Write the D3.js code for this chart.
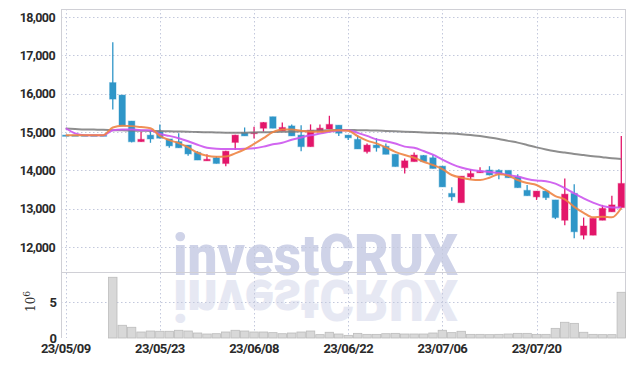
<!DOCTYPE html>
<html><head><meta charset="utf-8">
<script src="https://cdn.jsdelivr.net/npm/d3@7"></script>
<style>body{margin:0;background:#fff}svg{display:block}</style>
</head><body>
<svg id="c" width="635" height="366"></svg>
<script>
const dates = ["23/05/09","23/05/10","23/05/11","23/05/12","23/05/15","23/05/16","23/05/17","23/05/18","23/05/19","23/05/22",
"23/05/23","23/05/24","23/05/25","23/05/26","23/05/30","23/05/31","23/06/01","23/06/02","23/06/05","23/06/07",
"23/06/08","23/06/09","23/06/12","23/06/13","23/06/14","23/06/15","23/06/16","23/06/19","23/06/20","23/06/21",
"23/06/22","23/06/23","23/06/26","23/06/27","23/06/28","23/06/29","23/06/30","23/07/03","23/07/04","23/07/05",
"23/07/06","23/07/07","23/07/10","23/07/11","23/07/12","23/07/13","23/07/14","23/07/17","23/07/18","23/07/19",
"23/07/20","23/07/21","23/07/24","23/07/25","23/07/26","23/07/27","23/07/28","23/07/31","23/08/01","23/08/02"];
const open  = [14920,14920,14920,14920,14920,16290,15965,15287,14750,14920,15010,14820,14750,14660,14470,14250,14330,14180,14730,14980,
14960,15100,15400,15030,15160,14920,14620,15010,15080,15180,14920,14810,14490,14660,14630,14420,14070,14230,14390,14330,
14110,13400,13160,13830,13940,14010,14000,14000,13830,13480,13310,13460,13230,12700,13400,12310,12310,12700,12920,13030];
const high  = [14920,14920,14920,14920,14920,17340,15970,15290,15010,15010,15200,14820,14970,14660,14500,14420,14370,14510,14930,15120,
15140,15260,15400,15250,15200,15180,15200,15200,15425,15180,14920,14920,14700,14840,14700,14420,14310,14470,14400,14400,
14110,13560,13850,14030,14080,14110,14030,14000,13900,13620,13460,13460,13230,13790,13640,12770,12750,13100,13340,14900];
const low   = [14920,14920,14920,14920,14920,15590,15150,14730,14750,14720,14830,14590,14590,14380,14270,14250,14180,14110,14530,14900,
14830,15010,15100,15030,14900,14500,14620,15010,15080,14900,14790,14560,14440,14490,14420,14100,13920,14230,14230,14050,
13570,13210,13160,13770,13940,13870,13770,13810,13550,13340,13230,13230,12730,12570,12230,12200,12310,12700,12920,13030];
const close = [14920,14920,14920,14920,14920,15860,15157,14747,14810,14820,14840,14640,14590,14430,14270,14290,14180,14500,14920,14900,
14990,15250,15100,15120,14900,14620,15050,15100,15200,14970,14850,14560,14660,14590,14420,14100,14250,14400,14230,14050,
13570,13310,13850,13920,13980,13880,13920,13810,13550,13340,13460,13290,12770,13380,12400,12550,12750,13010,13100,13660];
const volume = [0,0,0,0,0,8.5,1.78,1.5,0.84,0.98,0.94,0.94,1.08,0.98,0.7,0.56,0.6,0.84,1.08,0.98,
0.84,0.84,0.75,0.6,0.7,0.84,0.98,0.47,0.8,0.56,0.37,0.65,0.51,0.51,0.6,0.65,0.56,0.56,0.56,0.7,
1.08,0.75,0.94,0.51,0.51,0.47,0.51,0.56,0.65,0.65,0.51,0.51,1.35,2.2,2.05,0.8,0.51,0.47,0.47,6.4];
const maShort = [14920,14920,14920,14920,14920,15120,15165,15155,15130,15100,14900,14790,14710,14600,14460,14380,14355,14360,14445,14550,
14690,14840,15000,15070,15070,15035,15010,15010,15035,15050,15035,14895,14775,14705,14600,14485,14400,14330,14225,14140,
14035,13880,13810,13765,13750,13810,13900,13860,13750,13670,13620,13485,13330,13245,13050,12895,12775,12790,12775,13020];
const maMid = [15100,14965,14920,14920,14920,15050,15070,15065,15050,15045,14950,14900,14840,14760,14670,14590,14565,14560,14560,14565,
14580,14620,14680,14720,14800,14860,14915,14960,15005,15040,15050,14980,14900,14810,14760,14700,14620,14590,14505,14410,
14280,14165,14075,14015,13985,13960,13930,13880,13840,13775,13735,13720,13655,13540,13400,13270,13160,13070,13035,13035];
const maLong = [15090,15080,15070,15065,15060,15050,15045,15040,15035,15030,15025,15020,15015,15010,15000,14995,14990,14985,14985,14985,
14990,14995,15000,15005,15010,15020,15030,15040,15050,15055,15055,15050,15045,15040,15030,15020,15010,15000,14990,14980,
14970,14960,14945,14925,14895,14860,14820,14770,14725,14665,14600,14545,14500,14465,14430,14400,14370,14345,14320,14300];
const priceTicks = [12000,13000,14000,15000,16000,17000,18000];
const volTicks = [0,5];
const dateTickIdx = [0,10,20,30,40,50];

const svg = d3.select("#c");
const L = 61, R = 626, T = 9, MID = 272, B = 338;
const idx = d3.range(dates.length);
const x = d3.scaleBand().domain(idx).range([L, R]);
const bw = x.bandwidth();
const cx = i => x(i) + bw / 2;
const y = d3.scaleLinear().domain([11350, 18210]).range([MID, T]);
const yv = d3.scaleLinear().domain([0, 9.24]).range([B, MID]);

// watermark
const wm = svg.append("g").attr("font-family", "Roboto, Lato, Liberation Sans, Arial").attr("font-weight", 900).attr("font-size", 58);
wm.append("text").attr("x", 173).attr("y", 275).attr("textLength", 285).attr("lengthAdjust", "spacingAndGlyphs")
  .attr("fill", "#cfd3e8").text("investCRUX");
wm.append("text").attr("x", 173).attr("y", -280).attr("transform", "scale(1,-1)").attr("textLength", 285).attr("lengthAdjust", "spacingAndGlyphs")
  .attr("fill", "#cfd3e8").attr("opacity", 0.5).text("investCRUX");

// grids
const grid = svg.append("g").attr("stroke", "#c3c8dc").attr("stroke-width", 1).attr("stroke-dasharray", "1.5,2.5");
priceTicks.forEach(t => grid.append("line").attr("x1", L).attr("x2", R).attr("y1", Math.round(y(t)) + 0.5).attr("y2", Math.round(y(t)) + 0.5));
grid.append("line").attr("x1", L).attr("x2", R).attr("y1", Math.round(yv(5)) + 0.5).attr("y2", Math.round(yv(5)) + 0.5);
dateTickIdx.forEach(i => grid.append("line").attr("x1", Math.round(cx(i)) + 0.5).attr("x2", Math.round(cx(i)) + 0.5).attr("y1", T).attr("y2", B));

// frame
const fr = svg.append("g").attr("stroke", "#d0d0d6").attr("stroke-width", 1);
fr.append("line").attr("x1", L + 0.5).attr("x2", L + 0.5).attr("y1", T).attr("y2", B);
fr.append("line").attr("x1", R - 0.5).attr("x2", R - 0.5).attr("y1", T).attr("y2", B);
fr.append("line").attr("x1", L).attr("x2", R).attr("y1", T + 0.5).attr("y2", T + 0.5);
fr.append("line").attr("x1", L).attr("x2", R).attr("y1", MID + 0.5).attr("y2", MID + 0.5);

// volume bars
svg.append("g").selectAll("rect").data(idx.filter(i => volume[i] > 0)).join("rect")
  .attr("x", i => x(i) + 0.5).attr("width", bw - 1)
  .attr("y", i => yv(volume[i])).attr("height", i => B - yv(volume[i]))
  .attr("fill", "#d8d8d8").attr("stroke", "#bcbcbc").attr("stroke-width", 0.8);

// candles
const up = "#e3166a", down = "#2f96c8";
const cg = svg.append("g");
idx.forEach(i => {
  const col = close[i] > open[i] ? up : down;
  cg.append("line").attr("x1", cx(i)).attr("x2", cx(i)).attr("y1", y(high[i])).attr("y2", y(low[i]))
    .attr("stroke", col).attr("stroke-width", 1.3);
  const top = y(Math.max(open[i], close[i])), bot = y(Math.min(open[i], close[i]));
  cg.append("rect").attr("x", cx(i) - 3.2).attr("width", 6.4).attr("y", top).attr("height", Math.max(bot - top, 1.2))
    .attr("fill", col).attr("stroke", col).attr("stroke-opacity", 0.35).attr("stroke-width", 1.2);
});

// moving averages
const line = d3.line().x((d, i) => cx(i)).y(d => y(d)).curve(d3.curveMonotoneX);
svg.append("path").attr("d", line(maLong)).attr("fill", "none").attr("stroke", "#7a7a7a").attr("stroke-opacity", 0.85).attr("stroke-width", 2);
svg.append("path").attr("d", line(maMid)).attr("fill", "none").attr("stroke", "#cc55ee").attr("stroke-opacity", 0.9).attr("stroke-width", 2);
svg.append("path").attr("d", line(maShort)).attr("fill", "none").attr("stroke", "#ee8444").attr("stroke-opacity", 0.9).attr("stroke-width", 2);

// axes labels
const font = "Roboto, Liberation Sans, Arial";
const ax = svg.append("g").attr("font-family", font).attr("font-weight", "bold").attr("fill", "#2a2a2a");
priceTicks.forEach(t => ax.append("text").attr("x", 55).attr("y", y(t) + 4.5).attr("text-anchor", "end")
  .attr("font-size", 12.5).attr("letter-spacing", -0.6).text(d3.format(",")(t)));
volTicks.forEach(t => ax.append("text").attr("x", 57).attr("y", yv(t) + 4.5).attr("text-anchor", "end")
  .attr("font-size", 13).text(t));
dateTickIdx.forEach(i => ax.append("text").attr("x", cx(i)).attr("y", 353).attr("text-anchor", "middle")
  .attr("font-size", 13).attr("letter-spacing", -0.6).text(dates[i]));
const vl = svg.append("text").attr("transform", "translate(35,312) rotate(-90)")
  .attr("font-family", "DejaVu Serif, serif").attr("font-size", 12).attr("fill", "#333");
vl.append("tspan").text("10");
vl.append("tspan").attr("dy", -5).attr("font-size", 9).text("6");
</script>
</body></html>
